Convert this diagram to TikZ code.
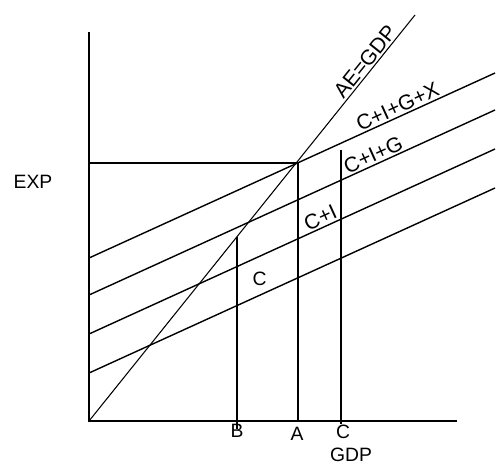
\documentclass[tikz,border=0pt]{standalone}
\usepackage{fontspec}
\setmainfont{Liberation Sans}
\usepackage{tikz}
\usetikzlibrary{calc}

\begin{document}
\begin{tikzpicture}[x=0.02cm,y=-0.02cm]
  \tikzstyle{ln}=[line width=0.8pt]
  \tikzstyle{lbl}=[font=\fontsize{11}{13}\selectfont,inner sep=1pt]
  \tikzstyle{slab}=[font=\fontsize{12}{14}\selectfont,sloped,above,inner sep=1pt]
  \useasboundingbox (0,0) rectangle (496,464);
  % axes
  \coordinate (O) at (89,421);
  \coordinate (ytop) at (89,32);
  \coordinate (xend) at (457,421);
  \draw[ln] (ytop) -- (O) -- (xend);
  \node[lbl] (exp) at (33,182) {EXP};
  \node[lbl] (gdp) at (351,455) {GDP};
  % 45 degree line
  \coordinate (ae) at (415,15);
  \draw[line width=0.6pt] (O) -- node[slab,pos=0.87]{AE=GDP} (ae);
  % spending lines
  \coordinate (s1) at (89,258); \coordinate (e1) at (495,73);
  \coordinate (s2) at (89,295); \coordinate (e2) at (495,110);
  \coordinate (s3) at (89,334); \coordinate (e3) at (495,149);
  \coordinate (s4) at (89,373); \coordinate (e4) at (495,188);
  \draw[ln] (s1) -- node[slab,pos=0.77]{C+I+G+X} (e1);
  \draw[ln] (s2) -- node[slab,pos=0.71]{C+I+G} (e2);
  \draw[ln] (s3) -- node[slab,pos=0.58]{C+I} (e3);
  \draw[ln] (s4) -- node[lbl,above=4pt,pos=0.42]{C} (e4);
  % output levels
  \coordinate (E) at (298,163);
  \coordinate (bt) at (237,237);
  \coordinate (ct) at (341,150);
  \node[lbl] (labB) at (237,431) {B};
  \node[lbl] (labA) at (297,434) {A};
  \node[lbl] (labC) at (343,432) {C};
  \draw[ln] (E -| O) -- (E) -- (E |- O);
  \draw[ln] (bt) -- ($(bt |- O)+(0,8)$);
  \draw[ln] (ct) -- ($(ct |- O)+(0,3)$);
\end{tikzpicture}
\end{document}
